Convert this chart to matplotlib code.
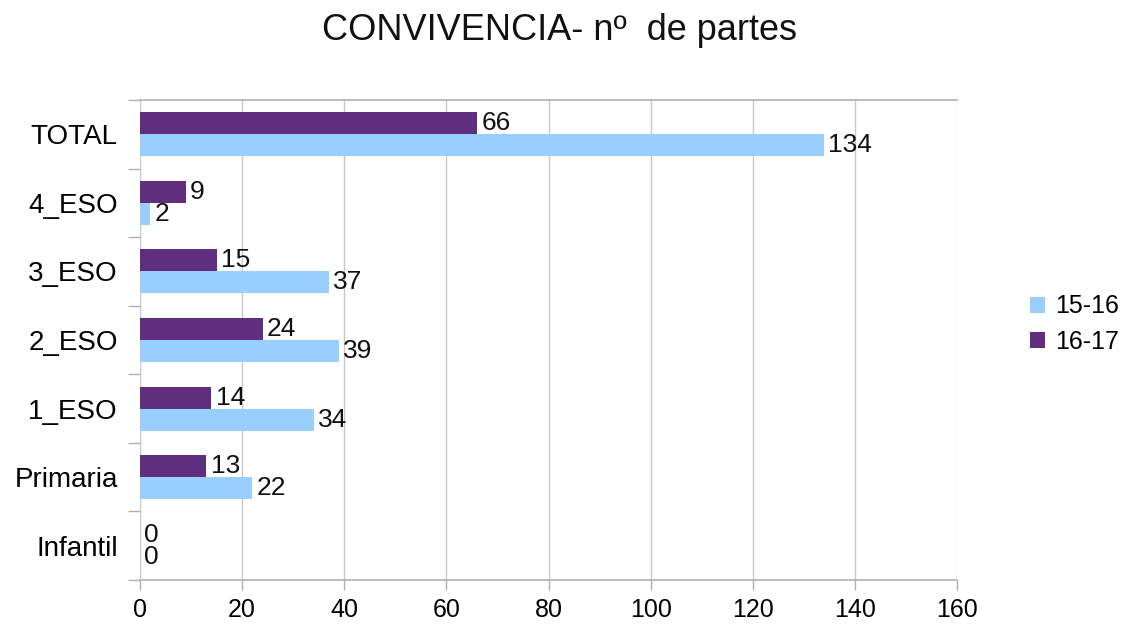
import numpy as np
import matplotlib
matplotlib.use('Agg')
import matplotlib.pyplot as plt

plt.rcParams['font.family'] = ['Liberation Sans', 'DejaVu Sans']

categories = ['TOTAL', '4_ESO', '3_ESO', '2_ESO', '1_ESO', 'Primaria', 'Infantil']
serie_1516 = [134, 2, 37, 39, 34, 22, 0]
serie_1617 = [66, 9, 15, 24, 14, 13, 0]
x_ticks = [0, 20, 40, 60, 80, 100, 120, 140, 160]

color_1516 = '#99cfff'
color_1617 = '#5f2e7e'
grid_color = '#c8c8c8'

fig = plt.figure(figsize=(11.36, 6.28), dpi=100)
ax = fig.add_axes([140 / 1136, 1 - 580 / 628, (957 - 140) / 1136, 480 / 628])

y = np.arange(len(categories))
h = 0.32
b1 = ax.barh(y + h / 2, serie_1516, height=h, color=color_1516, label='15-16', zorder=3)
b2 = ax.barh(y - h / 2, serie_1617, height=h, color=color_1617, label='16-17', zorder=3)

ax.bar_label(b1, labels=[str(v) for v in serie_1516], padding=3, fontsize=19, color='#111111')
ax.bar_label(b2, labels=[str(v) for v in serie_1617], padding=3, fontsize=19, color='#111111')

ax.set_ylim(len(categories) - 0.5, -0.5)
ax.set_xlim(0, 160)
ax.set_xticks(x_ticks)
ax.set_xticklabels([str(t) for t in x_ticks], fontsize=18)
ax.set_yticks(y)
ax.set_yticklabels(categories, fontsize=20)
ax.set_yticks(np.arange(len(categories) + 1) - 0.5, minor=True)

ax.tick_params(axis='y', which='major', length=0, pad=16)
ax.tick_params(axis='y', which='minor', length=9, direction='out', color='#b0b0b0', width=1)
ax.tick_params(axis='x', length=7, direction='out', color='#b0b0b0', width=1, pad=6)

ax.grid(axis='x', color=grid_color, linewidth=1, zorder=0)
for side in ['left', 'right']:
    ax.spines[side].set_visible(False)
for side in ['top', 'bottom']:
    ax.spines[side].set_color('#b0b0b0')
    ax.spines[side].set_linewidth(1.2)

fig.text(559 / 1136, 1 - 30 / 628, 'CONVIVENCIA- nº  de partes', ha='center', va='center',
         fontsize=26, color='#111111')

fig.legend(handles=[b1, b2], labels=['15-16', '16-17'], loc='center left',
           bbox_to_anchor=(1030 / 1136, 1 - 324 / 628), frameon=False, fontsize=18,
           handlelength=0.6, handleheight=0.6, handletextpad=0.4, labelspacing=0.45,
           borderaxespad=0, borderpad=0)

fig.savefig('out.png', dpi=100)
